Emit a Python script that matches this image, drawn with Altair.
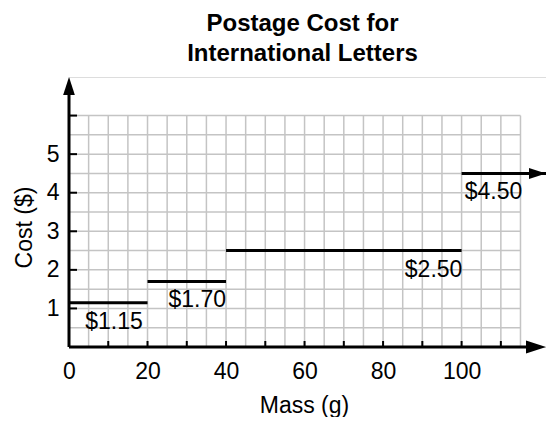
import altair as alt
import pandas as pd

FONT = "Liberation Sans"
GRID = "#c4c4c4"

# ---------------- data ----------------
step_start = [0, 20, 40, 100]
step_end = [20, 40, 100, 121.5]          # last step continues (arrow)
step_cost = [1.15, 1.70, 2.50, 4.50]
step_label = ["$1.15", "$1.70", "$2.50", "$4.50"]
label_x = [18.8, 40, 100.2, 100.8]
label_side = ["right", "right", "right", "left"]

x_grid = [5, 10, 15, 20, 25, 30, 35, 40, 45, 50, 55, 60, 65, 70, 75, 80,
          85, 90, 95, 100, 105, 110, 115]
y_grid = [0.5, 1, 1.5, 2, 2.5, 3, 3.5, 4, 4.5, 5, 5.5, 6]
grid_x_max = 115
grid_y_max = 6

x_tick_marks = [10, 20, 30, 40, 50, 60, 70, 80, 90, 100, 110]
y_tick_marks = [1, 2, 3, 4, 5, 6]
x_tick_labels = [0, 20, 40, 60, 80, 100]
y_tick_labels = [1, 2, 3, 4, 5]

x_axis_end = 121.5
y_axis_end = 7
x_line_end = 119
y_line_end = 6.7

# ---------------- scales ----------------
xs = alt.Scale(domain=[0, x_axis_end], nice=False, zero=False)
ys = alt.Scale(domain=[0, y_axis_end], nice=False, zero=False)

x_axis = alt.Axis(
    values=x_tick_labels, domain=False, ticks=False, tickSize=0, grid=False,
    labelFont=FONT, labelFontSize=23, labelColor="black", labelPadding=13,
    labelFlush=False, labelOverlap=False,
    title="Mass (g)", titleFont=FONT, titleFontSize=23, titleFontWeight="normal",
    titleColor="black", titleX=235, titleY=65, titleBaseline="alphabetic",
    titleAlign="center",
)
y_axis = alt.Axis(
    values=y_tick_labels, domain=False, ticks=False, tickSize=0, grid=False,
    labelFont=FONT, labelFontSize=23, labelColor="black", labelPadding=10,
    labelFlush=False, labelOverlap=False,
    title="Cost ($)", titleFont=FONT, titleFontSize=23, titleFontWeight="normal",
    titleColor="black", titleAngle=270, titleX=-38, titleY=150,
    titleBaseline="alphabetic", titleAlign="center",
)

# ---------------- layers ----------------
vgrid = alt.Chart(pd.DataFrame({"gx": x_grid, "g0": 0, "g1": grid_y_max})).mark_rule(
    color=GRID, strokeWidth=1.5
).encode(
    x=alt.X("gx:Q", scale=xs),
    y=alt.Y("g0:Q", scale=ys),
    y2="g1:Q",
)

hgrid = alt.Chart(pd.DataFrame({"gy": y_grid, "g0": 0, "g1": grid_x_max})).mark_rule(
    color=GRID, strokeWidth=1.5
).encode(
    y=alt.Y("gy:Q", scale=ys),
    x=alt.X("g0:Q", scale=xs),
    x2="g1:Q",
)

frame = pd.DataFrame({"o": [0], "xe": [x_line_end], "ye": [y_line_end],
                      "xt": [x_axis_end], "yt": [y_axis_end]})

xline = alt.Chart(frame).mark_rule(color="black", strokeWidth=3).encode(
    x=alt.X("o:Q", scale=xs), x2="xe:Q",
    y=alt.Y("o:Q", scale=ys),
)
yline = alt.Chart(frame).mark_rule(color="black", strokeWidth=3).encode(
    x=alt.X("o:Q", scale=xs),
    y=alt.Y("o:Q", scale=ys), y2="ye:Q",
)
xarrow = alt.Chart(frame).mark_point(
    shape="M0,0L-2,-0.65L-2,0.65Z", size=400, filled=True, color="black", opacity=1
).encode(
    x=alt.X("xt:Q", scale=xs),
    y=alt.Y("o:Q", scale=ys),
)
yarrow = alt.Chart(frame).mark_point(
    shape="M0,0L-0.65,2L0.65,2Z", size=324, filled=True, color="black", opacity=1
).encode(
    x=alt.X("o:Q", scale=xs),
    y=alt.Y("yt:Q", scale=ys),
)

xticks = alt.Chart(pd.DataFrame({"t": x_tick_marks, "o": 0})).mark_point(
    shape="M0,0V-2", size=36, filled=False, stroke="black", strokeWidth=2, opacity=1
).encode(
    x=alt.X("t:Q", scale=xs),
    y=alt.Y("o:Q", scale=ys),
)
yticks = alt.Chart(pd.DataFrame({"t": y_tick_marks, "o": 0})).mark_point(
    shape="M0,0H2", size=64, filled=False, stroke="black", strokeWidth=2, opacity=1
).encode(
    y=alt.Y("t:Q", scale=ys),
    x=alt.X("o:Q", scale=xs),
)

steps_df = pd.DataFrame({
    "start": step_start, "end": step_end, "cost": step_cost,
    "label": step_label, "lx": label_x, "side": label_side,
})

steps = alt.Chart(steps_df).mark_rule(color="black", strokeWidth=3).encode(
    x=alt.X("start:Q", scale=xs, axis=x_axis),
    x2="end:Q",
    y=alt.Y("cost:Q", scale=ys, axis=y_axis),
)

last = steps_df.iloc[[-1]]
step_arrow = alt.Chart(last).mark_point(
    shape="M0,0L-2,-0.65L-2,0.65Z", size=289, filled=True, color="black", opacity=1
).encode(
    x=alt.X("end:Q", scale=xs),
    y=alt.Y("cost:Q", scale=ys),
)

labels_r = alt.Chart(steps_df[steps_df.side == "right"]).mark_text(
    align="right", baseline="alphabetic", dy=26, font=FONT, fontSize=23, color="black"
).encode(
    x=alt.X("lx:Q", scale=xs),
    y=alt.Y("cost:Q", scale=ys),
    text="label:N",
)
labels_l = alt.Chart(steps_df[steps_df.side == "left"]).mark_text(
    align="left", baseline="alphabetic", dy=26, font=FONT, fontSize=23, color="black"
).encode(
    x=alt.X("lx:Q", scale=xs),
    y=alt.Y("cost:Q", scale=ys),
    text="label:N",
)

chart = alt.layer(
    vgrid, hgrid, xticks, yticks, xline, yline, xarrow, yarrow,
    steps, step_arrow, labels_r, labels_l,
).properties(
    width=477,
    height=270,
    title=alt.TitleParams(
        text=["Postage Cost for", "International Letters"],
        font=FONT, fontSize=24, fontWeight="bold", color="black",
        anchor="middle", lineHeight=30, offset=11, dx=-5,
    ),
    autosize=alt.AutoSizeParams(type="none"),
    padding={"left": 61, "top": 69, "right": 0, "bottom": 70},
).configure_view(stroke=None).configure(background="white")

chart.save("out.html", embed_options={"renderer": "svg", "actions": False})
